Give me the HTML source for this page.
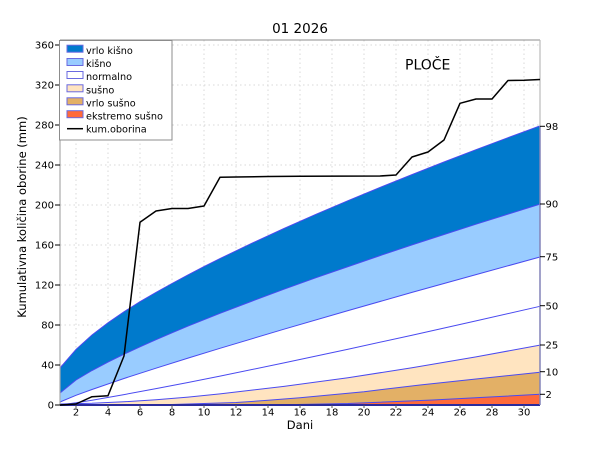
<!DOCTYPE html>
<html>
<head>
<meta charset="utf-8">
<style>
  html, body { margin: 0; padding: 0; background: #ffffff; }
  svg { display: block; }
  text { font-family: "DejaVu Sans", "Liberation Sans", sans-serif; fill: #000; }
</style>
</head>
<body>
<svg width="600" height="450" viewBox="0 0 600 450" xmlns="http://www.w3.org/2000/svg">
  <rect x="0" y="0" width="600" height="450" fill="#ffffff"/>

  <!-- grid -->
  <g stroke="#d8d8d8" stroke-width="1" stroke-dasharray="1.5,3" fill="none">
    <line x1="60" y1="45" x2="540" y2="45"/>
    <line x1="60" y1="85" x2="540" y2="85"/>
    <line x1="60" y1="125" x2="540" y2="125"/>
    <line x1="60" y1="165" x2="540" y2="165"/>
    <line x1="60" y1="205" x2="540" y2="205"/>
    <line x1="60" y1="245" x2="540" y2="245"/>
    <line x1="60" y1="285" x2="540" y2="285"/>
    <line x1="60" y1="325" x2="540" y2="325"/>
    <line x1="60" y1="365" x2="540" y2="365"/>
    <line x1="76" y1="40" x2="76" y2="405"/>
    <line x1="108" y1="40" x2="108" y2="405"/>
    <line x1="140" y1="40" x2="140" y2="405"/>
    <line x1="172" y1="40" x2="172" y2="405"/>
    <line x1="204" y1="40" x2="204" y2="405"/>
    <line x1="236" y1="40" x2="236" y2="405"/>
    <line x1="268" y1="40" x2="268" y2="405"/>
    <line x1="300" y1="40" x2="300" y2="405"/>
    <line x1="332" y1="40" x2="332" y2="405"/>
    <line x1="364" y1="40" x2="364" y2="405"/>
    <line x1="396" y1="40" x2="396" y2="405"/>
    <line x1="428" y1="40" x2="428" y2="405"/>
    <line x1="460" y1="40" x2="460" y2="405"/>
    <line x1="492" y1="40" x2="492" y2="405"/>
    <line x1="524" y1="40" x2="524" y2="405"/>
  </g>

  <!-- percentile fills -->
  <polygon fill="#007acc" points="60,405 60,368 76,349.5 92,335 108,322.8 124,311.8 140,301.7 156,292.4 172,283.5 188,274.9 204,266.6 220,258.6 252,243.2 284,228.5 316,214.3 348,200.7 380,187.5 412,174.6 444,162 476,149.7 508,137.7 540,125.9 540,405"/>
  <polygon fill="#99ccff" points="60,405 60,393 76,380 92,370.5 108,362.1 124,354.2 140,346.8 156,339.7 172,332.8 188,326.1 220,313.3 252,301.1 284,289.2 316,277.7 348,266.6 380,255.6 412,244.9 444,234.5 476,224.2 508,214.1 540,204.1 540,405"/>
  <polygon fill="#ffffff" points="60,405 60,402 76,395.3 92,389.5 124,378.5 156,368.2 188,358.1 220,348.3 284,329.2 348,310.6 412,292.4 476,274.6 540,257 540,405"/>
  <polygon fill="#ffe4c0" points="60,405 92,404.1 124,402.3 156,400 188,397.1 220,393.9 284,386.4 348,377.7 412,367.8 476,356.9 540,345.1 540,405"/>
  <polygon fill="#e3b066" points="60,405 172,404.5 236,402.5 268,400.3 300,397.7 364,391.7 420,385 476,379 540,372.3 540,405"/>
  <polygon fill="#ff6a3a" points="60,405 284,404.7 348,403.5 432.8,400 540,394.3 540,405"/>

  <!-- percentile lines -->
  <g fill="none" stroke="#4a4af0" stroke-width="1">
    <polyline points="60,368 76,349.5 92,335 108,322.8 124,311.8 140,301.7 156,292.4 172,283.5 188,274.9 204,266.6 220,258.6 252,243.2 284,228.5 316,214.3 348,200.7 380,187.5 412,174.6 444,162 476,149.7 508,137.7 540,125.9"/>
    <polyline points="60,393 76,380 92,370.5 108,362.1 124,354.2 140,346.8 156,339.7 172,332.8 188,326.1 220,313.3 252,301.1 284,289.2 316,277.7 348,266.6 380,255.6 412,244.9 444,234.5 476,224.2 508,214.1 540,204.1"/>
    <polyline points="60,402 76,395.3 92,389.5 124,378.5 156,368.2 188,358.1 220,348.3 284,329.2 348,310.6 412,292.4 476,274.6 540,257"/>
    <polyline points="60,405 76,402.8 92,400.2 124,394.6 156,388.65 188,382.5 220,376.1 284,362.9 348,349.2 412,335.2 476,320.9 540,306.3"/>
    <polyline points="60,404 92,403.3 124,401.8 156,399.7 188,397.1 220,393.9 284,386.4 348,377.7 412,367.8 476,356.9 540,345.1"/>
    <polyline points="60,405 172,404.5 236,402.5 268,400.3 300,397.7 364,391.7 420,385 476,379 540,372.3"/>
    <polyline points="60,405 284,404.7 348,403.5 432.8,400 540,394.3"/>
  </g>

  <!-- bottom line -->
  <line x1="60" y1="405" x2="540" y2="405" stroke="#2b2b9b" stroke-width="2"/>

  <!-- frame -->
  <line x1="60" y1="40" x2="540" y2="40" stroke="#8c8c8c" stroke-width="1"/>
  <line x1="60" y1="40" x2="60" y2="405" stroke="#aaaaaa" stroke-width="1.2"/>
  <line x1="540" y1="40" x2="540" y2="126" stroke="#bbbbbb" stroke-width="1.2"/>
  <line x1="540" y1="126" x2="540" y2="405" stroke="#8484b8" stroke-width="1.5"/>

  <!-- cumulative precipitation -->
  <polyline fill="none" stroke="#000000" stroke-width="1.5" stroke-linejoin="round"
    points="60,405 76,404 92,396.7 108,395.7 124,356 140,222.3 156,211 172,208.5 188,208.5 204,206 220,177.3 236,177 268,176.5 300,176.2 380,176 396,175 412,157 428,152 444,140 460,103.3 476,99 492,99 508,80.5 524,80.3 540,79.5"/>

  <!-- left ticks -->
  <g stroke="#000" stroke-width="1">
    <line x1="55" y1="45" x2="60" y2="45"/>
    <line x1="55" y1="85" x2="60" y2="85"/>
    <line x1="55" y1="125" x2="60" y2="125"/>
    <line x1="55" y1="165" x2="60" y2="165"/>
    <line x1="55" y1="205" x2="60" y2="205"/>
    <line x1="55" y1="245" x2="60" y2="245"/>
    <line x1="55" y1="285" x2="60" y2="285"/>
    <line x1="55" y1="325" x2="60" y2="325"/>
    <line x1="55" y1="365" x2="60" y2="365"/>
    <line x1="55" y1="405" x2="60" y2="405"/>
  </g>
  <g font-size="10" text-anchor="end">
    <text x="54" y="48.6">360</text>
    <text x="54" y="88.6">320</text>
    <text x="54" y="128.6">280</text>
    <text x="54" y="168.6">240</text>
    <text x="54" y="208.6">200</text>
    <text x="54" y="248.6">160</text>
    <text x="54" y="288.6">120</text>
    <text x="54" y="328.6">80</text>
    <text x="54" y="368.6">40</text>
    <text x="54" y="408.6">0</text>
  </g>

  <!-- bottom ticks -->
  <g stroke="#555" stroke-width="1">
    <line x1="76" y1="405" x2="76" y2="408"/>
    <line x1="108" y1="405" x2="108" y2="408"/>
    <line x1="140" y1="405" x2="140" y2="408"/>
    <line x1="172" y1="405" x2="172" y2="408"/>
    <line x1="204" y1="405" x2="204" y2="408"/>
    <line x1="236" y1="405" x2="236" y2="408"/>
    <line x1="268" y1="405" x2="268" y2="408"/>
    <line x1="300" y1="405" x2="300" y2="408"/>
    <line x1="332" y1="405" x2="332" y2="408"/>
    <line x1="364" y1="405" x2="364" y2="408"/>
    <line x1="396" y1="405" x2="396" y2="408"/>
    <line x1="428" y1="405" x2="428" y2="408"/>
    <line x1="460" y1="405" x2="460" y2="408"/>
    <line x1="492" y1="405" x2="492" y2="408"/>
    <line x1="524" y1="405" x2="524" y2="408"/>
  </g>
  <g font-size="10" text-anchor="middle">
    <text x="76" y="415.5">2</text>
    <text x="108" y="415.5">4</text>
    <text x="140" y="415.5">6</text>
    <text x="172" y="415.5">8</text>
    <text x="204" y="415.5">10</text>
    <text x="236" y="415.5">12</text>
    <text x="268" y="415.5">14</text>
    <text x="300" y="415.5">16</text>
    <text x="332" y="415.5">18</text>
    <text x="364" y="415.5">20</text>
    <text x="396" y="415.5">22</text>
    <text x="428" y="415.5">24</text>
    <text x="460" y="415.5">26</text>
    <text x="492" y="415.5">28</text>
    <text x="524" y="415.5">30</text>
  </g>

  <!-- right percentile ticks -->
  <g stroke="#000" stroke-width="1">
    <line x1="540" y1="126.3" x2="545" y2="126.3"/>
    <line x1="540" y1="204" x2="545" y2="204"/>
    <line x1="540" y1="256.7" x2="545" y2="256.7"/>
    <line x1="540" y1="305.7" x2="545" y2="305.7"/>
    <line x1="540" y1="345" x2="545" y2="345"/>
    <line x1="540" y1="371.7" x2="545" y2="371.7"/>
    <line x1="540" y1="394.3" x2="545" y2="394.3"/>
  </g>
  <g font-size="10" text-anchor="start">
    <text x="545.5" y="130">98</text>
    <text x="545.5" y="207.7">90</text>
    <text x="545.5" y="260.4">75</text>
    <text x="545.5" y="309.4">50</text>
    <text x="545.5" y="348.7">25</text>
    <text x="545.5" y="375.4">10</text>
    <text x="545.5" y="398">2</text>
  </g>

  <!-- titles -->
  <text x="300" y="33" font-size="13.5" text-anchor="middle">01 2026</text>
  <text x="405" y="69.5" font-size="14">PLOČE</text>
  <text x="300" y="429" font-size="11.5" text-anchor="middle">Dani</text>
  <text transform="translate(26,217) rotate(-90)" font-size="11.5" text-anchor="middle">Kumulativna količina oborine (mm)</text>

  <!-- legend -->
  <rect x="59.5" y="40.5" width="112.5" height="99.5" fill="#ffffff" stroke="#8c8c8c" stroke-width="1"/>
  <g stroke="#6a6ae0" stroke-width="1">
    <rect x="67" y="45.2" width="16" height="7" fill="#007acc"/>
    <rect x="67" y="58.5" width="16" height="7" fill="#99ccff"/>
    <rect x="67" y="71.5" width="16" height="7" fill="#ffffff"/>
    <rect x="67" y="84.8" width="16" height="7" fill="#ffe4c0"/>
    <rect x="67" y="97.8" width="16" height="7" fill="#e3b066"/>
    <rect x="67" y="110.7" width="16" height="7" fill="#ff6a3a"/>
  </g>
  <line x1="67" y1="128.7" x2="83" y2="128.7" stroke="#000" stroke-width="1.5"/>
  <g font-size="9.7">
    <text x="86" y="54">vrlo kišno</text>
    <text x="86" y="67.1">kišno</text>
    <text x="86" y="80.2">normalno</text>
    <text x="86" y="93.3">sušno</text>
    <text x="86" y="106.4">vrlo sušno</text>
    <text x="86" y="119.5">ekstremo sušno</text>
    <text x="86" y="132.5">kum.oborina</text>
  </g>
</svg>
</body>
</html>
